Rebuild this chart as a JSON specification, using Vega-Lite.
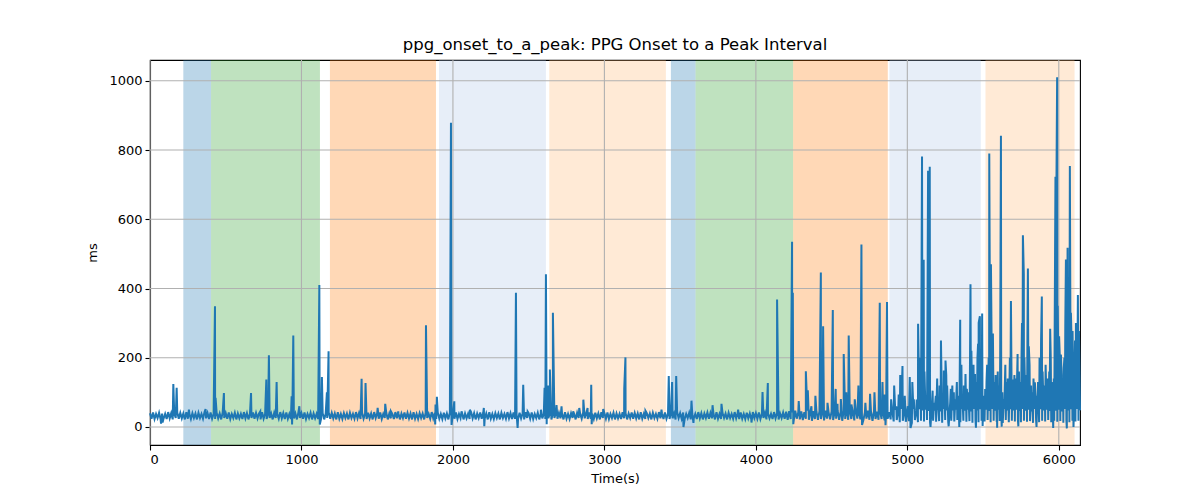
{
  "$schema": "https://vega.github.io/schema/vega-lite/v6.json",
  "width": 930,
  "height": 385,
  "autosize": {"type": "none"},
  "padding": {"left": 150, "top": 60, "right": 120, "bottom": 55},
  "title": {
    "text": "ppg_onset_to_a_peak: PPG Onset to a Peak Interval",
    "font": "DejaVu Sans",
    "fontSize": 16.5,
    "fontWeight": "normal",
    "color": "#000",
    "anchor": "middle",
    "offset": 6
  },
  "config": {
    "view": {"stroke": "#000", "strokeWidth": 1.1},
    "axis": {
      "grid": false,
      "domainColor": "#000",
      "domainWidth": 1.1,
      "tickColor": "#000",
      "tickSize": 5,
      "tickWidth": 1.1,
      "labelFont": "DejaVu Sans",
      "labelFontSize": 13,
      "labelColor": "#000",
      "labelPadding": 3,
      "titleFont": "DejaVu Sans",
      "titleFontSize": 13,
      "titleFontWeight": "normal",
      "titleColor": "#000"
    },
    "axisX": {"titlePadding": 6},
    "axisY": {"titlePadding": 9}
  },
  "datasets": {
    "spans": [
      {"start": 220, "end": 403, "phase": "rest"},
      {"start": 403, "end": 1122, "phase": "task1"},
      {"start": 1188, "end": 1888, "phase": "task2"},
      {"start": 1908, "end": 2614, "phase": "task3"},
      {"start": 2636, "end": 3406, "phase": "task4"},
      {"start": 3439, "end": 3602, "phase": "rest"},
      {"start": 3602, "end": 4246, "phase": "task1"},
      {"start": 4246, "end": 4871, "phase": "task2"},
      {"start": 4882, "end": 5485, "phase": "task3"},
      {"start": 5516, "end": 6104, "phase": "task4"}
    ],
    "xgrid": [{"t": 0}, {"t": 1000}, {"t": 2000}, {"t": 3000}, {"t": 4000}, {"t": 5000}, {"t": 6000}],
    "ygrid": [{"v": 0}, {"v": 200}, {"v": 400}, {"v": 600}, {"v": 800}, {"v": 1000}],
    "series": [
      {"t":0,"v":40},{"t":10,"v":24},{"t":20,"v":42},{"t":30,"v":23},{"t":40,"v":38},{"t":50,"v":26},{"t":60,"v":41},{"t":70,"v":22},{"t":80,"v":39},{"t":90,"v":25},
      {"t":100,"v":38},{"t":110,"v":23},{"t":120,"v":43},{"t":130,"v":25},{"t":140,"v":40},{"t":150,"v":22},{"t":160,"v":39},{"t":170,"v":26},{"t":180,"v":42},{"t":190,"v":24},
      {"t":200,"v":41},{"t":210,"v":25},{"t":220,"v":39},{"t":230,"v":22},{"t":240,"v":43},{"t":250,"v":24},{"t":260,"v":38},{"t":270,"v":23},{"t":280,"v":40},{"t":290,"v":26},
      {"t":300,"v":39},{"t":310,"v":22},{"t":320,"v":41},{"t":330,"v":26},{"t":340,"v":38},{"t":350,"v":24},{"t":360,"v":43},{"t":370,"v":25},{"t":380,"v":40},{"t":390,"v":23},
      {"t":400,"v":42},{"t":410,"v":24},{"t":420,"v":38},{"t":430,"v":23},{"t":440,"v":41},{"t":450,"v":25},{"t":460,"v":39},{"t":470,"v":22},{"t":480,"v":43},{"t":490,"v":26},
      {"t":500,"v":40},{"t":510,"v":24},{"t":520,"v":42},{"t":530,"v":23},{"t":540,"v":38},{"t":550,"v":26},{"t":560,"v":41},{"t":570,"v":22},{"t":580,"v":39},{"t":590,"v":25},
      {"t":600,"v":38},{"t":610,"v":23},{"t":620,"v":43},{"t":630,"v":25},{"t":640,"v":40},{"t":650,"v":22},{"t":660,"v":39},{"t":670,"v":26},{"t":680,"v":42},{"t":690,"v":24},
      {"t":700,"v":41},{"t":710,"v":25},{"t":720,"v":39},{"t":730,"v":22},{"t":740,"v":43},{"t":750,"v":24},{"t":760,"v":38},{"t":770,"v":23},{"t":780,"v":40},{"t":790,"v":26},
      {"t":800,"v":39},{"t":810,"v":22},{"t":820,"v":41},{"t":830,"v":26},{"t":840,"v":38},{"t":850,"v":24},{"t":860,"v":43},{"t":870,"v":25},{"t":880,"v":40},{"t":890,"v":23},
      {"t":900,"v":42},{"t":910,"v":24},{"t":920,"v":38},{"t":930,"v":23},{"t":940,"v":41},{"t":950,"v":25},{"t":960,"v":39},{"t":970,"v":22},{"t":980,"v":43},{"t":990,"v":26},
      {"t":1000,"v":40},{"t":1010,"v":24},{"t":1020,"v":42},{"t":1030,"v":23},{"t":1040,"v":38},{"t":1050,"v":26},{"t":1060,"v":41},{"t":1070,"v":22},{"t":1080,"v":39},{"t":1090,"v":25},
      {"t":1100,"v":38},{"t":1110,"v":23},{"t":1120,"v":43},{"t":1130,"v":25},{"t":1140,"v":40},{"t":1150,"v":22},{"t":1160,"v":39},{"t":1170,"v":26},{"t":1180,"v":42},{"t":1190,"v":24},
      {"t":1200,"v":41},{"t":1210,"v":25},{"t":1220,"v":39},{"t":1230,"v":22},{"t":1240,"v":43},{"t":1250,"v":24},{"t":1260,"v":38},{"t":1270,"v":23},{"t":1280,"v":40},{"t":1290,"v":26},
      {"t":1300,"v":39},{"t":1310,"v":22},{"t":1320,"v":41},{"t":1330,"v":26},{"t":1340,"v":38},{"t":1350,"v":24},{"t":1360,"v":43},{"t":1370,"v":25},{"t":1380,"v":40},{"t":1390,"v":23},
      {"t":1400,"v":42},{"t":1410,"v":24},{"t":1420,"v":38},{"t":1430,"v":23},{"t":1440,"v":41},{"t":1450,"v":25},{"t":1460,"v":39},{"t":1470,"v":22},{"t":1480,"v":43},{"t":1490,"v":26},
      {"t":1500,"v":40},{"t":1510,"v":24},{"t":1520,"v":42},{"t":1530,"v":23},{"t":1540,"v":38},{"t":1550,"v":26},{"t":1560,"v":41},{"t":1570,"v":22},{"t":1580,"v":39},{"t":1590,"v":25},
      {"t":1600,"v":38},{"t":1610,"v":23},{"t":1620,"v":43},{"t":1630,"v":25},{"t":1640,"v":40},{"t":1650,"v":22},{"t":1660,"v":39},{"t":1670,"v":26},{"t":1680,"v":42},{"t":1690,"v":24},
      {"t":1700,"v":41},{"t":1710,"v":25},{"t":1720,"v":39},{"t":1730,"v":22},{"t":1740,"v":43},{"t":1750,"v":24},{"t":1760,"v":38},{"t":1770,"v":23},{"t":1780,"v":40},{"t":1790,"v":26},
      {"t":1800,"v":39},{"t":1810,"v":22},{"t":1820,"v":41},{"t":1830,"v":26},{"t":1840,"v":38},{"t":1850,"v":24},{"t":1860,"v":43},{"t":1870,"v":25},{"t":1880,"v":40},{"t":1890,"v":23},
      {"t":1900,"v":42},{"t":1910,"v":24},{"t":1920,"v":38},{"t":1930,"v":23},{"t":1940,"v":41},{"t":1950,"v":25},{"t":1960,"v":39},{"t":1970,"v":22},{"t":1980,"v":43},{"t":1990,"v":26},
      {"t":2000,"v":40},{"t":2010,"v":24},{"t":2020,"v":42},{"t":2030,"v":23},{"t":2040,"v":38},{"t":2050,"v":26},{"t":2060,"v":41},{"t":2070,"v":22},{"t":2080,"v":39},{"t":2090,"v":25},
      {"t":2100,"v":38},{"t":2110,"v":23},{"t":2120,"v":43},{"t":2130,"v":25},{"t":2140,"v":40},{"t":2150,"v":22},{"t":2160,"v":39},{"t":2170,"v":26},{"t":2180,"v":42},{"t":2190,"v":24},
      {"t":2200,"v":41},{"t":2210,"v":25},{"t":2220,"v":39},{"t":2230,"v":22},{"t":2240,"v":43},{"t":2250,"v":24},{"t":2260,"v":38},{"t":2270,"v":23},{"t":2280,"v":40},{"t":2290,"v":26},
      {"t":2300,"v":39},{"t":2310,"v":22},{"t":2320,"v":41},{"t":2330,"v":26},{"t":2340,"v":38},{"t":2350,"v":24},{"t":2360,"v":43},{"t":2370,"v":25},{"t":2380,"v":40},{"t":2390,"v":23},
      {"t":2400,"v":42},{"t":2410,"v":24},{"t":2420,"v":38},{"t":2430,"v":23},{"t":2440,"v":41},{"t":2450,"v":25},{"t":2460,"v":39},{"t":2470,"v":22},{"t":2480,"v":43},{"t":2490,"v":26},
      {"t":2500,"v":40},{"t":2510,"v":24},{"t":2520,"v":42},{"t":2530,"v":23},{"t":2540,"v":38},{"t":2550,"v":26},{"t":2560,"v":41},{"t":2570,"v":22},{"t":2580,"v":39},{"t":2590,"v":25},
      {"t":2600,"v":38},{"t":2610,"v":23},{"t":2620,"v":43},{"t":2630,"v":25},{"t":2640,"v":40},{"t":2650,"v":22},{"t":2660,"v":39},{"t":2670,"v":26},{"t":2680,"v":42},{"t":2690,"v":24},
      {"t":2700,"v":41},{"t":2710,"v":25},{"t":2720,"v":39},{"t":2730,"v":22},{"t":2740,"v":43},{"t":2750,"v":24},{"t":2760,"v":38},{"t":2770,"v":23},{"t":2780,"v":40},{"t":2790,"v":26},
      {"t":2800,"v":39},{"t":2810,"v":22},{"t":2820,"v":41},{"t":2830,"v":26},{"t":2840,"v":38},{"t":2850,"v":24},{"t":2860,"v":43},{"t":2870,"v":25},{"t":2880,"v":40},{"t":2890,"v":23},
      {"t":2900,"v":42},{"t":2910,"v":24},{"t":2920,"v":38},{"t":2930,"v":23},{"t":2940,"v":41},{"t":2950,"v":25},{"t":2960,"v":39},{"t":2970,"v":22},{"t":2980,"v":43},{"t":2990,"v":26},
      {"t":3000,"v":40},{"t":3010,"v":24},{"t":3020,"v":42},{"t":3030,"v":23},{"t":3040,"v":38},{"t":3050,"v":26},{"t":3060,"v":41},{"t":3070,"v":22},{"t":3080,"v":39},{"t":3090,"v":25},
      {"t":3100,"v":38},{"t":3110,"v":23},{"t":3120,"v":43},{"t":3130,"v":25},{"t":3140,"v":40},{"t":3150,"v":22},{"t":3160,"v":39},{"t":3170,"v":26},{"t":3180,"v":42},{"t":3190,"v":24},
      {"t":3200,"v":41},{"t":3210,"v":25},{"t":3220,"v":39},{"t":3230,"v":22},{"t":3240,"v":43},{"t":3250,"v":24},{"t":3260,"v":38},{"t":3270,"v":23},{"t":3280,"v":40},{"t":3290,"v":26},
      {"t":3300,"v":39},{"t":3310,"v":22},{"t":3320,"v":41},{"t":3330,"v":26},{"t":3340,"v":38},{"t":3350,"v":24},{"t":3360,"v":43},{"t":3370,"v":25},{"t":3380,"v":40},{"t":3390,"v":23},
      {"t":3400,"v":42},{"t":3410,"v":24},{"t":3420,"v":38},{"t":3430,"v":23},{"t":3440,"v":41},{"t":3450,"v":25},{"t":3460,"v":39},{"t":3470,"v":22},{"t":3480,"v":43},{"t":3490,"v":26},
      {"t":3500,"v":40},{"t":3510,"v":24},{"t":3520,"v":42},{"t":3530,"v":23},{"t":3540,"v":38},{"t":3550,"v":26},{"t":3560,"v":41},{"t":3570,"v":22},{"t":3580,"v":39},{"t":3590,"v":25},
      {"t":3600,"v":38},{"t":3610,"v":23},{"t":3620,"v":43},{"t":3630,"v":25},{"t":3640,"v":40},{"t":3650,"v":22},{"t":3660,"v":39},{"t":3670,"v":26},{"t":3680,"v":42},{"t":3690,"v":24},
      {"t":3700,"v":41},{"t":3710,"v":25},{"t":3720,"v":39},{"t":3730,"v":22},{"t":3740,"v":43},{"t":3750,"v":24},{"t":3760,"v":38},{"t":3770,"v":23},{"t":3780,"v":40},{"t":3790,"v":26},
      {"t":3800,"v":39},{"t":3810,"v":22},{"t":3820,"v":41},{"t":3830,"v":26},{"t":3840,"v":38},{"t":3850,"v":24},{"t":3860,"v":43},{"t":3870,"v":25},{"t":3880,"v":40},{"t":3890,"v":23},
      {"t":3900,"v":42},{"t":3910,"v":24},{"t":3920,"v":38},{"t":3930,"v":23},{"t":3940,"v":41},{"t":3950,"v":25},{"t":3960,"v":39},{"t":3970,"v":22},{"t":3980,"v":43},{"t":3990,"v":26},
      {"t":4000,"v":40},{"t":4010,"v":24},{"t":4020,"v":42},{"t":4030,"v":23},{"t":4040,"v":38},{"t":4050,"v":26},{"t":4060,"v":41},{"t":4070,"v":22},{"t":4080,"v":39},{"t":4090,"v":25},
      {"t":4100,"v":38},{"t":4110,"v":23},{"t":4120,"v":43},{"t":4130,"v":25},{"t":4140,"v":40},{"t":4150,"v":22},{"t":4160,"v":39},{"t":4170,"v":26},{"t":4180,"v":42},{"t":4190,"v":24},
      {"t":4200,"v":44},{"t":4210,"v":21},{"t":4220,"v":46},{"t":4230,"v":23},{"t":4240,"v":42},{"t":4250,"v":19},{"t":4260,"v":47},{"t":4270,"v":24},{"t":4280,"v":43},{"t":4290,"v":22},
      {"t":4300,"v":45},{"t":4310,"v":20},{"t":4320,"v":43},{"t":4330,"v":24},{"t":4340,"v":47},{"t":4350,"v":21},{"t":4360,"v":44},{"t":4370,"v":18},{"t":4380,"v":46},{"t":4390,"v":23},
      {"t":4400,"v":44},{"t":4410,"v":21},{"t":4420,"v":46},{"t":4430,"v":23},{"t":4440,"v":42},{"t":4450,"v":19},{"t":4460,"v":47},{"t":4470,"v":24},{"t":4480,"v":43},{"t":4490,"v":22},
      {"t":4500,"v":45},{"t":4510,"v":20},{"t":4520,"v":43},{"t":4530,"v":24},{"t":4540,"v":47},{"t":4550,"v":21},{"t":4560,"v":44},{"t":4570,"v":18},{"t":4580,"v":46},{"t":4590,"v":23},
      {"t":4600,"v":44},{"t":4610,"v":21},{"t":4620,"v":46},{"t":4630,"v":23},{"t":4640,"v":42},{"t":4650,"v":19},{"t":4660,"v":47},{"t":4670,"v":24},{"t":4680,"v":43},{"t":4690,"v":22},
      {"t":4700,"v":45},{"t":4710,"v":20},{"t":4720,"v":43},{"t":4730,"v":24},{"t":4740,"v":47},{"t":4750,"v":21},{"t":4760,"v":44},{"t":4770,"v":18},{"t":4780,"v":46},{"t":4790,"v":23},
      {"t":4800,"v":44},{"t":4810,"v":21},{"t":4820,"v":46},{"t":4830,"v":23},{"t":4840,"v":42},{"t":4850,"v":19},{"t":4860,"v":47},{"t":4870,"v":24},{"t":4880,"v":43},{"t":4890,"v":22},
      {"t":4900,"v":48},{"t":4910,"v":16},{"t":4920,"v":50},{"t":4930,"v":20},{"t":4940,"v":46},{"t":4950,"v":14},{"t":4960,"v":52},{"t":4970,"v":18},{"t":4980,"v":47},{"t":4990,"v":15},
      {"t":5000,"v":50},{"t":5010,"v":17},{"t":5020,"v":45},{"t":5030,"v":12},{"t":5040,"v":52},{"t":5050,"v":20},{"t":5060,"v":48},{"t":5070,"v":14},{"t":5080,"v":51},{"t":5090,"v":18},
      {"t":5100,"v":48},{"t":5110,"v":16},{"t":5120,"v":50},{"t":5130,"v":20},{"t":5140,"v":46},{"t":5150,"v":14},{"t":5160,"v":52},{"t":5170,"v":18},{"t":5180,"v":47},{"t":5190,"v":15},
      {"t":5200,"v":50},{"t":5210,"v":17},{"t":5220,"v":45},{"t":5230,"v":12},{"t":5240,"v":52},{"t":5250,"v":20},{"t":5260,"v":48},{"t":5270,"v":14},{"t":5280,"v":51},{"t":5290,"v":18},
      {"t":5300,"v":48},{"t":5310,"v":16},{"t":5320,"v":50},{"t":5330,"v":20},{"t":5340,"v":46},{"t":5350,"v":14},{"t":5360,"v":52},{"t":5370,"v":18},{"t":5380,"v":47},{"t":5390,"v":15},
      {"t":5400,"v":50},{"t":5410,"v":17},{"t":5420,"v":45},{"t":5430,"v":12},{"t":5440,"v":52},{"t":5450,"v":20},{"t":5460,"v":48},{"t":5470,"v":14},{"t":5480,"v":51},{"t":5490,"v":18},
      {"t":5500,"v":48},{"t":5510,"v":16},{"t":5520,"v":50},{"t":5530,"v":20},{"t":5540,"v":46},{"t":5550,"v":14},{"t":5560,"v":52},{"t":5570,"v":18},{"t":5580,"v":47},{"t":5590,"v":15},
      {"t":5600,"v":50},{"t":5610,"v":17},{"t":5620,"v":45},{"t":5630,"v":12},{"t":5640,"v":52},{"t":5650,"v":20},{"t":5660,"v":48},{"t":5670,"v":14},{"t":5680,"v":51},{"t":5690,"v":18},
      {"t":5700,"v":48},{"t":5710,"v":16},{"t":5720,"v":50},{"t":5730,"v":20},{"t":5740,"v":46},{"t":5750,"v":14},{"t":5760,"v":52},{"t":5770,"v":18},{"t":5780,"v":47},{"t":5790,"v":15},
      {"t":5800,"v":50},{"t":5810,"v":17},{"t":5820,"v":45},{"t":5830,"v":12},{"t":5840,"v":52},{"t":5850,"v":20},{"t":5860,"v":48},{"t":5870,"v":14},{"t":5880,"v":51},{"t":5890,"v":18},
      {"t":5900,"v":48},{"t":5910,"v":16},{"t":5920,"v":50},{"t":5930,"v":20},{"t":5940,"v":46},{"t":5950,"v":14},{"t":5960,"v":52},{"t":5970,"v":18},{"t":5980,"v":47},{"t":5990,"v":15},
      {"t":6000,"v":50},{"t":6010,"v":17},{"t":6020,"v":45},{"t":6030,"v":12},{"t":6040,"v":52},{"t":6050,"v":20},{"t":6060,"v":48},{"t":6070,"v":14},{"t":6080,"v":51},{"t":6090,"v":18},
      {"t":6100,"v":50},{"t":6110,"v":16},{"t":6120,"v":52},{"t":6130,"v":18},{"t":6140,"v":48},
      {"t":73,"v":10},{"t":83,"v":13},{"t":154,"v":124},{"t":176,"v":113},{"t":257,"v":50},{"t":367,"v":52},{"t":429,"v":349},{"t":433,"v":84},{"t":488,"v":98},{"t":667,"v":98},{"t":728,"v":45},{"t":768,"v":137},{"t":785,"v":207},{"t":836,"v":130},{"t":935,"v":89},{"t":938,"v":7},{"t":946,"v":264},{"t":986,"v":60},
      {"t":1118,"v":410},{"t":1121,"v":7},{"t":1135,"v":144},{"t":1168,"v":100},{"t":1179,"v":219},{"t":1397,"v":139},{"t":1423,"v":127},{"t":1503,"v":55},{"t":1553,"v":67},{"t":1591,"v":45},{"t":1639,"v":45},{"t":1822,"v":294},{"t":1883,"v":7},{"t":1885,"v":65},{"t":1894,"v":87},{"t":1987,"v":879},{"t":1991,"v":6},{"t":2009,"v":74},{"t":2057,"v":45},
      {"t":2112,"v":50},{"t":2204,"v":55},{"t":2207,"v":2},{"t":2416,"v":388},{"t":2427,"v":-3},{"t":2464,"v":122},{"t":2493,"v":45},{"t":2581,"v":50},{"t":2605,"v":113},{"t":2614,"v":441},{"t":2619,"v":8},{"t":2627,"v":120},{"t":2640,"v":166},{"t":2660,"v":330},{"t":2684,"v":63},{"t":2717,"v":60},{"t":2794,"v":45},{"t":2834,"v":55},{"t":2861,"v":79},{"t":2889,"v":55},{"t":2913,"v":122},{"t":2916,"v":8},{"t":2992,"v":52},
      {"t":3131,"v":111},{"t":3139,"v":201},{"t":3271,"v":47},{"t":3377,"v":50},{"t":3425,"v":147},{"t":3447,"v":130},{"t":3474,"v":147},{"t":3522,"v":0},{"t":3575,"v":76},{"t":3588,"v":12},{"t":3714,"v":63},{"t":3773,"v":67},{"t":3883,"v":50},{"t":3971,"v":13},{"t":4044,"v":101},{"t":4079,"v":127},
      {"t":4140,"v":368},{"t":4239,"v":535},{"t":4244,"v":388},{"t":4247,"v":8},{"t":4283,"v":75},{"t":4330,"v":161},{"t":4343,"v":106},{"t":4367,"v":60},{"t":4393,"v":90},{"t":4429,"v":446},{"t":4444,"v":291},{"t":4473,"v":70},{"t":4508,"v":338},{"t":4527,"v":110},{"t":4539,"v":67},{"t":4561,"v":81},{"t":4580,"v":211},{"t":4597,"v":100},{"t":4613,"v":264},{"t":4631,"v":65},{"t":4653,"v":80},{"t":4677,"v":120},{"t":4697,"v":527},{"t":4701,"v":6},{"t":4723,"v":70},{"t":4754,"v":96},{"t":4783,"v":100},{"t":4818,"v":359},{"t":4836,"v":130},{"t":4851,"v":94},{"t":4856,"v":5},{"t":4866,"v":361},
      {"t":4893,"v":80},{"t":4913,"v":120},{"t":4927,"v":60},{"t":4943,"v":94},{"t":4953,"v":150},{"t":4968,"v":176},{"t":4983,"v":90},{"t":5003,"v":60},{"t":5016,"v":144},{"t":5021,"v":-3},{"t":5033,"v":130},{"t":5043,"v":80},{"t":5062,"v":79},{"t":5071,"v":298},{"t":5083,"v":200},{"t":5097,"v":781},{"t":5108,"v":483},{"t":5113,"v":160},{"t":5127,"v":90},
      {"t":5137,"v":740},{"t":5148,"v":752},{"t":5153,"v":0},{"t":5167,"v":105},{"t":5177,"v":70},{"t":5188,"v":90},{"t":5197,"v":140},{"t":5203,"v":70},{"t":5213,"v":120},{"t":5222,"v":250},{"t":5233,"v":90},{"t":5241,"v":163},{"t":5252,"v":192},{"t":5257,"v":150},{"t":5263,"v":120},{"t":5273,"v":2},{"t":5283,"v":70},{"t":5287,"v":110},{"t":5297,"v":120},{"t":5307,"v":100},{"t":5317,"v":80},{"t":5327,"v":130},{"t":5337,"v":90},{"t":5343,"v":0},{"t":5349,"v":310},{"t":5357,"v":180},{"t":5363,"v":95},{"t":5373,"v":120},{"t":5384,"v":153},{"t":5393,"v":110},{"t":5403,"v":100},{"t":5413,"v":140},{"t":5417,"v":412},{"t":5423,"v":220},{"t":5431,"v":153},{"t":5437,"v":180},{"t":5447,"v":153},{"t":5453,"v":-2},{"t":5457,"v":130},{"t":5463,"v":200},{"t":5467,"v":240},{"t":5471,"v":301},{"t":5479,"v":320},{"t":5487,"v":200},{"t":5494,"v":328},{"t":5497,"v":3},
      {"t":5503,"v":90},{"t":5514,"v":110},{"t":5523,"v":132},{"t":5527,"v":180},{"t":5537,"v":200},{"t":5541,"v":790},{"t":5547,"v":140},{"t":5552,"v":470},{"t":5557,"v":220},{"t":5565,"v":270},{"t":5573,"v":130},{"t":5583,"v":150},{"t":5591,"v":127},{"t":5593,"v":-2},{"t":5597,"v":160},{"t":5607,"v":120},{"t":5613,"v":200},{"t":5618,"v":841},{"t":5623,"v":1},{"t":5627,"v":100},{"t":5637,"v":80},{"t":5647,"v":180},{"t":5655,"v":130},{"t":5663,"v":140},{"t":5673,"v":90},{"t":5677,"v":200},{"t":5684,"v":364},{"t":5693,"v":110},{"t":5699,"v":137},{"t":5707,"v":150},{"t":5712,"v":140},{"t":5717,"v":120},{"t":5728,"v":211},{"t":5733,"v":2},{"t":5737,"v":160},{"t":5747,"v":130},{"t":5754,"v":201},{"t":5757,"v":300},{"t":5763,"v":554},{"t":5769,"v":441},{"t":5773,"v":200},{"t":5783,"v":150},{"t":5787,"v":110},{"t":5793,"v":260},{"t":5796,"v":458},{"t":5802,"v":233},{"t":5807,"v":180},{"t":5817,"v":120},{"t":5823,"v":100},{"t":5833,"v":140},{"t":5842,"v":129},{"t":5847,"v":90},{"t":5853,"v":0},{"t":5858,"v":90},{"t":5863,"v":130},{"t":5873,"v":200},{"t":5879,"v":142},{"t":5883,"v":250},{"t":5888,"v":377},{"t":5893,"v":160},
      {"t":5903,"v":120},{"t":5908,"v":100},{"t":5913,"v":180},{"t":5923,"v":100},{"t":5927,"v":140},{"t":5937,"v":160},{"t":5943,"v":284},{"t":5947,"v":200},{"t":5953,"v":130},{"t":5957,"v":110},{"t":5963,"v":-3},{"t":5967,"v":140},{"t":5973,"v":300},{"t":5978,"v":723},{"t":5983,"v":600},{"t":5989,"v":1010},{"t":5993,"v":350},{"t":6002,"v":262},{"t":6007,"v":200},{"t":6014,"v":209},{"t":6019,"v":150},{"t":6027,"v":120},{"t":6033,"v":170},{"t":6037,"v":200},{"t":6043,"v":300},{"t":6047,"v":484},{"t":6053,"v":-4},{"t":6058,"v":518},{"t":6063,"v":400},{"t":6067,"v":300},{"t":6073,"v":754},{"t":6077,"v":250},{"t":6080,"v":330},{"t":6087,"v":200},{"t":6091,"v":277},{"t":6097,"v":0},{"t":6103,"v":150},{"t":6107,"v":250},{"t":6113,"v":300},{"t":6117,"v":200},{"t":6123,"v":180},{"t":6126,"v":381},{"t":6133,"v":277},{"t":6137,"v":150}
    ]
  },
  "layer": [
    {
      "data": {"name": "spans"},
      "mark": {"type": "rect", "opacity": 0.3},
      "encoding": {
        "x": {"field": "start", "type": "quantitative", "title": "Time(s)", "scale": {"domain": [0, 6140], "nice": false, "zero": false}},
        "x2": {"field": "end"},
        "color": {
          "field": "phase",
          "type": "nominal",
          "scale": {"domain": ["rest", "task1", "task2", "task3", "task4"], "range": ["#1f77b4", "#2ca02c", "#ff7f0e", "#aec7e8", "#ffbb78"]},
          "legend": null
        }
      }
    },
    {
      "data": {"name": "xgrid"},
      "mark": {"type": "rule", "color": "#b0b0b0", "strokeWidth": 1.1},
      "encoding": {
        "x": {"field": "t", "type": "quantitative", "title": "Time(s)", "scale": {"domain": [0, 6140], "nice": false, "zero": false}}
      }
    },
    {
      "data": {"name": "ygrid"},
      "mark": {"type": "rule", "color": "#b0b0b0", "strokeWidth": 1.1},
      "encoding": {
        "y": {"field": "v", "type": "quantitative", "title": "ms", "scale": {"domain": [-52, 1060], "nice": false, "zero": false}}
      }
    },
    {
      "data": {"name": "series"},
      "mark": {"type": "line", "color": "#1f77b4", "strokeWidth": 2},
      "encoding": {
        "x": {
          "field": "t",
          "type": "quantitative",
          "title": "Time(s)",
          "scale": {"domain": [0, 6140], "nice": false, "zero": false},
          "axis": {"values": [0, 1000, 2000, 3000, 4000, 5000, 6000], "format": "d"}
        },
        "y": {
          "field": "v",
          "type": "quantitative",
          "title": "ms",
          "scale": {"domain": [-52, 1060], "nice": false, "zero": false},
          "axis": {"values": [0, 200, 400, 600, 800, 1000], "format": "d"}
        }
      }
    }
  ]
}
